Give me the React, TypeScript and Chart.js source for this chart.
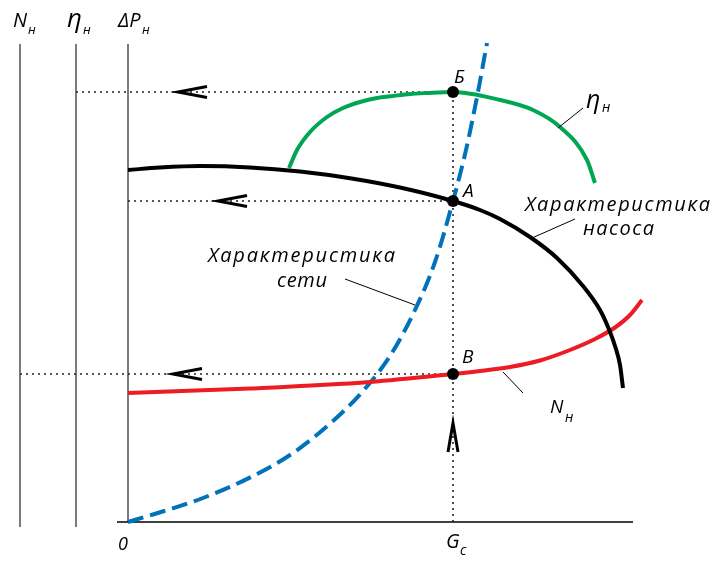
import React, { useEffect, useRef } from 'react';
import { Chart, registerables } from 'chart.js';

Chart.register(...registerables);

const W = 712;
const H = 562;

// ---- Data (x: flow G, y: value in axis units) ----
// Pump characteristic ΔP(G)
const pumpG = [0, 6.4, 14.4, 24.4, 34.4, 44.4, 54.4, 65, 70.4, 74.4, 80.4, 85.8, 91, 94.4, 96, 97.4, 98.4, 99];
const pumpDP = [70.4, 70.9, 71.2, 70.92, 70.1, 68.76, 66.9, 64.2, 62.4, 60.6, 57, 52.8, 47.2, 42.4, 39, 35.2, 31.4, 26.8];

// Pump efficiency η(G)
const etaG = [32.2, 33.8, 36.4, 39.8, 43, 46.4, 49.8, 53, 56.4, 59.8, 65, 74.4, 81, 86.4, 91.8, 93.4];
const etaV = [70.8, 74.4, 78, 81, 82.8, 84, 84.8, 85.2, 85.6, 85.8, 86, 84.4, 82.4, 79, 72.4, 67.8];

// Pump power N(G)
const powerG = [0, 24.4, 48.4, 65, 70.4, 76.4, 82.4, 88.4, 93.4, 97.4, 100.4, 102.8];
const powerN = [25.8, 26.7, 28, 29.6, 30.2, 31, 32.3, 34.4, 36.6, 38.9, 41.4, 44.4];

// Network characteristic ΔP(G)
const netG = [0, 5, 15, 25, 33, 41, 47, 52.4, 57.4, 61.4, 65, 67.6, 69.8, 71.8];
const netDP = [0, 1.5, 4.8, 9.2, 13.8, 20.2, 26.2, 33.2, 42.4, 52, 64.2, 74.4, 85, 95.8];

// Operating point G_c and the three read-off points
const G_C = 65;
const opLabels = ['Б', 'А', 'В'];
const opValues = [86, 64.2, 29.6];

// Axes: N_н, η_н, ΔP_н (positions on the G scale)
const axisNames = ['N', 'η', 'ΔP'];
const axisSubs = ['н', 'н', 'н'];
const axisAt = [-21.6, -10.4, 0];

// each guide line runs to this axis
const guideAxis = [1, 2, 0];
// arrow tips on the guide lines
const arrowTipG = [10, 18, 9];
const upArrowTipDP = 19.8;

const X_MIN = -2.2;
const X_MAX = 104;
const Y_MIN = 0;
const Y_MAX = 96.4;
const AXIS_TOP = 95.6;
const X_AXIS_END = 101;

const FONT = '"Open Sans", "DejaVu Sans", sans-serif';

const toXY = (xs: number[], ys: number[]) => xs.map((x, i) => ({ x, y: ys[i] }));

function fitText(ctx: CanvasRenderingContext2D, text: string, left: number, right: number, baseline: number) {
  (ctx as any).letterSpacing = '0px';
  const w = ctx.measureText(text).width;
  const n = Array.from(text).length;
  const ls = n > 1 ? (right - left - w) / (n - 1) : 0;
  (ctx as any).letterSpacing = ls + 'px';
  ctx.fillText(text, left, baseline);
  (ctx as any).letterSpacing = '0px';
}

function seg(ctx: CanvasRenderingContext2D, x1: number, y1: number, x2: number, y2: number) {
  ctx.beginPath();
  ctx.moveTo(x1, y1);
  ctx.lineTo(x2, y2);
  ctx.stroke();
}

const decor = {
  id: 'decor',
  beforeDatasetsDraw(chart: any) {
    const { ctx } = chart;
    const xs = chart.scales.x;
    const ys = chart.scales.y;
    const X = (v: number) => xs.getPixelForValue(v);
    const Y = (v: number) => ys.getPixelForValue(v);
    ctx.save();
    // vertical axes
    ctx.strokeStyle = '#7a7a7a';
    ctx.lineWidth = 2;
    axisAt.forEach((g) => {
      const bottom = g === 0 ? Y(0) : Y(0) + 5;
      seg(ctx, X(g), bottom, X(g), Y(AXIS_TOP));
    });
    // horizontal G axis
    ctx.strokeStyle = '#000';
    ctx.lineWidth = 1.5;
    seg(ctx, X(X_MIN), Y(0), X(X_AXIS_END), Y(0));
    // dotted guides
    ctx.setLineDash([2, 4]);
    ctx.strokeStyle = '#222';
    ctx.lineWidth = 1.6;
    opValues.forEach((v, i) => {
      seg(ctx, X(axisAt[guideAxis[i]]), Y(v), X(G_C), Y(v));
    });
    seg(ctx, X(G_C), Y(0), X(G_C), Y(opValues[0]));
    ctx.setLineDash([]);
    ctx.restore();
  },
  afterDatasetsDraw(chart: any) {
    const { ctx } = chart;
    const xs = chart.scales.x;
    const ys = chart.scales.y;
    const X = (v: number) => xs.getPixelForValue(v);
    const Y = (v: number) => ys.getPixelForValue(v);
    ctx.save();
    ctx.fillStyle = '#000';
    ctx.strokeStyle = '#000';

    // arrows "<" on the guides
    ctx.lineWidth = 3;
    ctx.lineJoin = 'miter';
    opValues.forEach((v, i) => {
      const tx = X(arrowTipG[i]);
      const ty = Y(v);
      ctx.beginPath();
      ctx.moveTo(tx + 29, ty - 5.5);
      ctx.lineTo(tx, ty);
      ctx.lineTo(tx + 29, ty + 5.5);
      ctx.stroke();
    });
    // up arrow on G_c
    {
      const tx = X(G_C);
      const ty = Y(upArrowTipDP);
      ctx.beginPath();
      ctx.moveTo(tx - 5, ty + 29);
      ctx.lineTo(tx, ty);
      ctx.lineTo(tx + 5, ty + 29);
      ctx.stroke();
    }

    // leader lines
    ctx.lineWidth = 1;
    seg(ctx, X(80.8), Y(56.8), X(89.4), Y(60.6)); // pump
    seg(ctx, X(43.4), Y(48.6), X(57.4), Y(43.4)); // network
    seg(ctx, X(86), Y(78.8), X(91), Y(82.8)); // eta
    seg(ctx, X(75), Y(30), X(79), Y(25.8)); // power

    ctx.textAlign = 'left';
    ctx.textBaseline = 'alphabetic';

    // axis titles
    const mainLeft = [-23, -12.2, -2];
    const subLeft = [-20, -9, 2.8];
    axisNames.forEach((name, i) => {
      ctx.font = `italic ${name === 'η' ? 26 : 20}px ${FONT}`;
      ctx.fillText(name, X(mainLeft[i]), Y(99));
      ctx.font = `italic 13px ${FONT}`;
      ctx.fillText(axisSubs[i], X(subLeft[i]), Y(97.6));
    });

    // point labels
    const dxs = [1, 10, 9];
    const dys = [-9, -4, -11];
    ctx.font = `italic 19px ${FONT}`;
    opLabels.forEach((t, i) => {
      ctx.fillText(t, X(G_C) + dxs[i], Y(opValues[i]) + dys[i]);
    });

    // curve labels
    ctx.font = `italic 20px ${FONT}`;
    fitText(ctx, 'Характеристика', X(79.4), X(116.4), Y(62.2));
    fitText(ctx, 'насоса', X(91), X(105.2), Y(57.4));
    fitText(ctx, 'Характеристика', X(16), X(53.4), Y(52));
    fitText(ctx, 'сети', X(29.8), X(39.8), Y(47));

    ctx.font = `italic 25px ${FONT}`;
    ctx.fillText('η', X(91.6), Y(82.8));
    ctx.font = `italic 14px ${FONT}`;
    ctx.fillText('н', X(94.8), Y(82));

    ctx.font = `italic 19px ${FONT}`;
    ctx.fillText('N', X(84.4), Y(21.8));
    ctx.font = `italic 14px ${FONT}`;
    ctx.fillText('н', X(87.4), Y(20));

    // G axis labels
    ctx.font = `italic 20px ${FONT}`;
    ctx.fillText('G', X(63.6), Y(-5.2));
    ctx.font = `italic 14px ${FONT}`;
    ctx.fillText('c', X(66.4), Y(-6.6));
    ctx.font = `italic 18px ${FONT}`;
    ctx.fillText('0', X(-2), Y(-5.6));

    ctx.restore();
  },
};

export default function App() {
  const ref = useRef<HTMLCanvasElement>(null);
  useEffect(() => {
    const canvas = ref.current;
    if (!canvas) return;
    const line = (data: any, color: string, order: number, extra: any = {}) => ({
      data,
      borderColor: color,
      borderWidth: 4,
      pointRadius: 0,
      cubicInterpolationMode: 'monotone',
      tension: 0.4,
      fill: false,
      clip: false,
      order,
      borderCapStyle: 'butt',
      ...extra,
    });
    const chart = new Chart(canvas, {
      type: 'line',
      data: {
        datasets: [
          {
            data: opValues.map((v) => ({ x: G_C, y: v })),
            showLine: false,
            pointRadius: 6,
            pointBackgroundColor: '#000',
            pointBorderWidth: 0,
            borderColor: '#000',
            clip: false,
            order: 0,
          } as any,
          line(toXY(pumpG, pumpDP), '#000000', 1),
          line(toXY(powerG, powerN), '#ed1c24', 2),
          line(toXY(netG, netDP), '#0072bc', 3, { borderDash: [16, 7] }),
          line(toXY(etaG, etaV), '#00a651', 4),
        ],
      },
      options: {
        responsive: false,
        animation: false,
        events: [],
        layout: { padding: { left: 117, right: 64, top: 40, bottom: 40 } },
        plugins: { legend: { display: false }, tooltip: { enabled: false } },
        scales: {
          x: { type: 'linear', display: false, min: X_MIN, max: X_MAX },
          y: { type: 'linear', display: false, min: Y_MIN, max: Y_MAX },
        },
      },
      plugins: [decor],
    } as any);
    return () => chart.destroy();
  }, []);
  return (
    <div style={{ position: 'fixed', left: 0, top: 0, width: W, height: H, background: '#fff' }}>
      <canvas ref={ref} width={W} height={H} style={{ display: 'block', width: W, height: H }} />
    </div>
  );
}
